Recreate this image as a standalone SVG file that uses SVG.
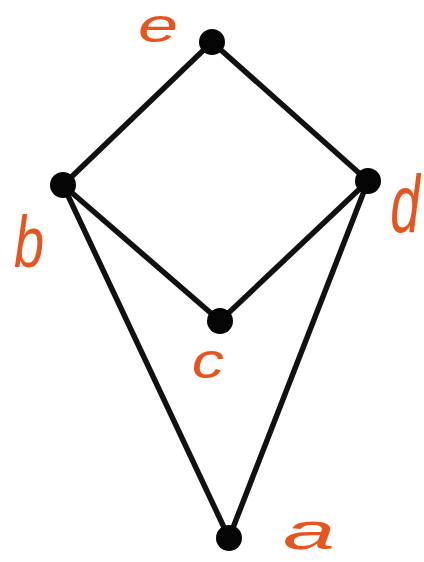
<svg xmlns="http://www.w3.org/2000/svg" width="424" height="562" viewBox="0 0 424 562">
<style>
.edge{stroke:#111;stroke-width:5.5;stroke-linecap:round;fill:none}
.node{fill:#050505}
.lbl{fill:#e5561f;font-family:"Liberation Sans",Arial,sans-serif;font-style:italic;text-anchor:middle}
</style>
<rect width="424" height="562" fill="#fff"/>
<g id="connectors">
<line class="edge" x1="212" y1="42" x2="63" y2="185"/>
<line class="edge" x1="212" y1="42" x2="368" y2="181"/>
<line class="edge" x1="63" y1="185" x2="220" y2="321"/>
<line class="edge" x1="368" y1="181" x2="220" y2="321"/>
<line class="edge" x1="63" y1="185" x2="229" y2="538"/>
<line class="edge" x1="368" y1="181" x2="229" y2="538"/>
</g>
<g id="node-e"><circle class="node" cx="212" cy="42" r="13"/><text class="lbl" transform="translate(158,42) scale(1.5,1)" font-size="48">e</text></g>
<g id="node-b"><circle class="node" cx="63" cy="185" r="13"/><text class="lbl" transform="translate(29,267) scale(0.75,1)" font-size="72">b</text></g>
<g id="node-d"><circle class="node" cx="368" cy="181" r="13"/><text class="lbl" transform="translate(405,232) scale(0.65,1)" font-size="82">d</text></g>
<g id="node-c"><circle class="node" cx="220" cy="321" r="13"/><text class="lbl" transform="translate(208,378) scale(1.3,1)" font-size="50">c</text></g>
<g id="node-a"><circle class="node" cx="229" cy="538" r="13"/><text class="lbl" transform="translate(309,549) scale(1.8,1)" font-size="52">a</text></g>
</svg>
